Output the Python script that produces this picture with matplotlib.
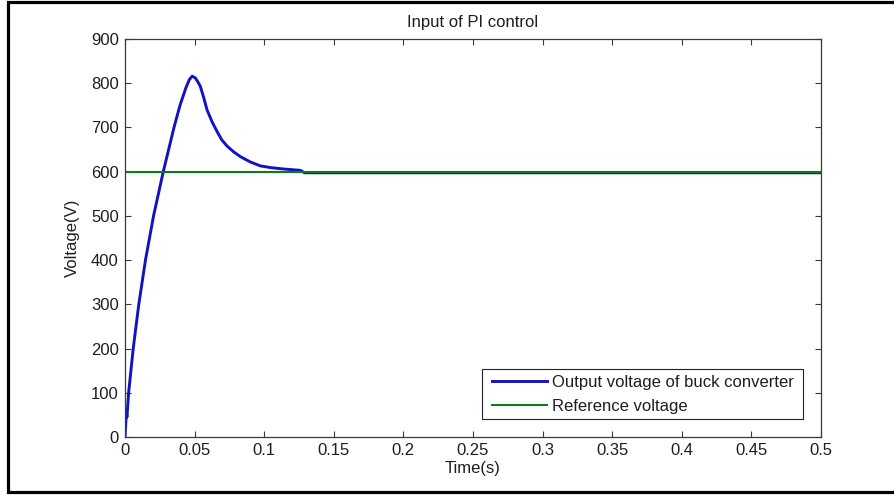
import matplotlib
matplotlib.use("Agg")
import matplotlib.pyplot as plt
from matplotlib.lines import Line2D
from matplotlib.patches import Rectangle

# ---- data ----
t_out = [0.0, 0.0010, 0.0014, 0.0026, 0.0059, 0.0099, 0.0147, 0.0205,
         0.0275, 0.0352, 0.0395, 0.0438, 0.0462, 0.0483, 0.0505, 0.0520,
         0.0541, 0.0565, 0.0589, 0.0625, 0.0661, 0.0695, 0.0733, 0.0780,
         0.0829, 0.0900, 0.0973, 0.1050, 0.1141, 0.1260, 0.1290, 0.5]
v_out = [0, 55, 45, 100, 200, 300, 400, 500,
         600, 700, 750, 790, 808, 816, 812, 805,
         793, 768, 740, 713, 691, 672, 658, 645,
         634, 622, 613, 609, 606, 603, 597.5, 597.5]
t_ref = [0.0, 0.5]
v_ref = [600, 600]

xticks = [0, 0.05, 0.1, 0.15, 0.2, 0.25, 0.3, 0.35, 0.4, 0.45, 0.5]
xticklabels = ["0", "0.05", "0.1", "0.15", "0.2", "0.25", "0.3", "0.35", "0.4", "0.45", "0.5"]
yticks = [0, 100, 200, 300, 400, 500, 600, 700, 800, 900]
yticklabels = [str(v) for v in yticks]

title = "Input of PI control"
xlabel = "Time(s)"
ylabel = "Voltage(V)"
legend_labels = ["Output voltage of buck converter", "Reference voltage"]

plt.rcParams['font.family'] = ['Liberation Sans', 'DejaVu Sans']
FS = 12
TXT = '#1e1e1e'

W, H = 895, 495
fig = plt.figure(figsize=(W / 100, H / 100), dpi=100)
fig.patch.set_facecolor('white')

# outer frame (left, top, bottom visible)
fx = lambda px: px / W
fy = lambda py: 1 - py / H
frame = Line2D([fx(905), fx(8), fx(8), fx(905)],
               [fy(2), fy(2), fy(492), fy(492)],
               transform=fig.transFigure, color='black', lw=2.3,
               solid_joinstyle='miter')
fig.add_artist(frame)

L, R, T, B = 125, 821, 39, 437
AW, AH = R - L, B - T
ax = fig.add_axes([L / W, 1 - B / H, AW / W, AH / H])
axx = lambda px: (px - L) / AW
axy = lambda py: (B - py) / AH

axis_col = '#3a3a3a'
ax.plot(t_out, v_out, color='#1212c4', lw=2.1, label=legend_labels[0],
        solid_joinstyle='round')
ax.plot(t_ref, v_ref, color='#0c7d1c', lw=1.5, label=legend_labels[1])

ax.set_xlim(0, 0.5)
ax.set_ylim(0, 900)
ax.set_xticks(xticks)
ax.set_xticklabels(xticklabels)
ax.set_yticks(yticks)
ax.set_yticklabels(yticklabels)

ax.tick_params(direction='in', length=4.5, width=0.8, colors=axis_col,
               labelcolor=TXT, labelsize=FS, top=True, right=True, pad=4.5)
for s in ax.spines.values():
    s.set_color(axis_col)
    s.set_linewidth(0.9)

ax.text(0.5, axy(22), title, transform=ax.transAxes,
        ha='center', va='center', fontsize=FS, color=TXT)
ax.text(0.5, axy(468), xlabel, transform=ax.transAxes,
        ha='center', va='center', fontsize=FS, color=TXT)
ax.text(axx(72), 0.5, ylabel, transform=ax.transAxes,
        ha='center', va='center', rotation=90, fontsize=FS, color=TXT)

# legend frame: x 482..803, y 369..419 (pixels)
box = Rectangle((axx(482), axy(419)), axx(803) - axx(482), axy(369) - axy(419),
                transform=ax.transAxes, facecolor='white', edgecolor='#222222',
                lw=0.8, zorder=5)
ax.add_patch(box)
leg = ax.legend(loc='upper left', bbox_to_anchor=(axx(492), axy(375)),
                fontsize=FS, frameon=False, borderaxespad=0, borderpad=0,
                handlelength=3.3, handletextpad=0.3, labelspacing=0.55)
leg.set_zorder(6)
for txt in leg.get_texts():
    txt.set_color(TXT)

fig.savefig('out.png', dpi=100)
